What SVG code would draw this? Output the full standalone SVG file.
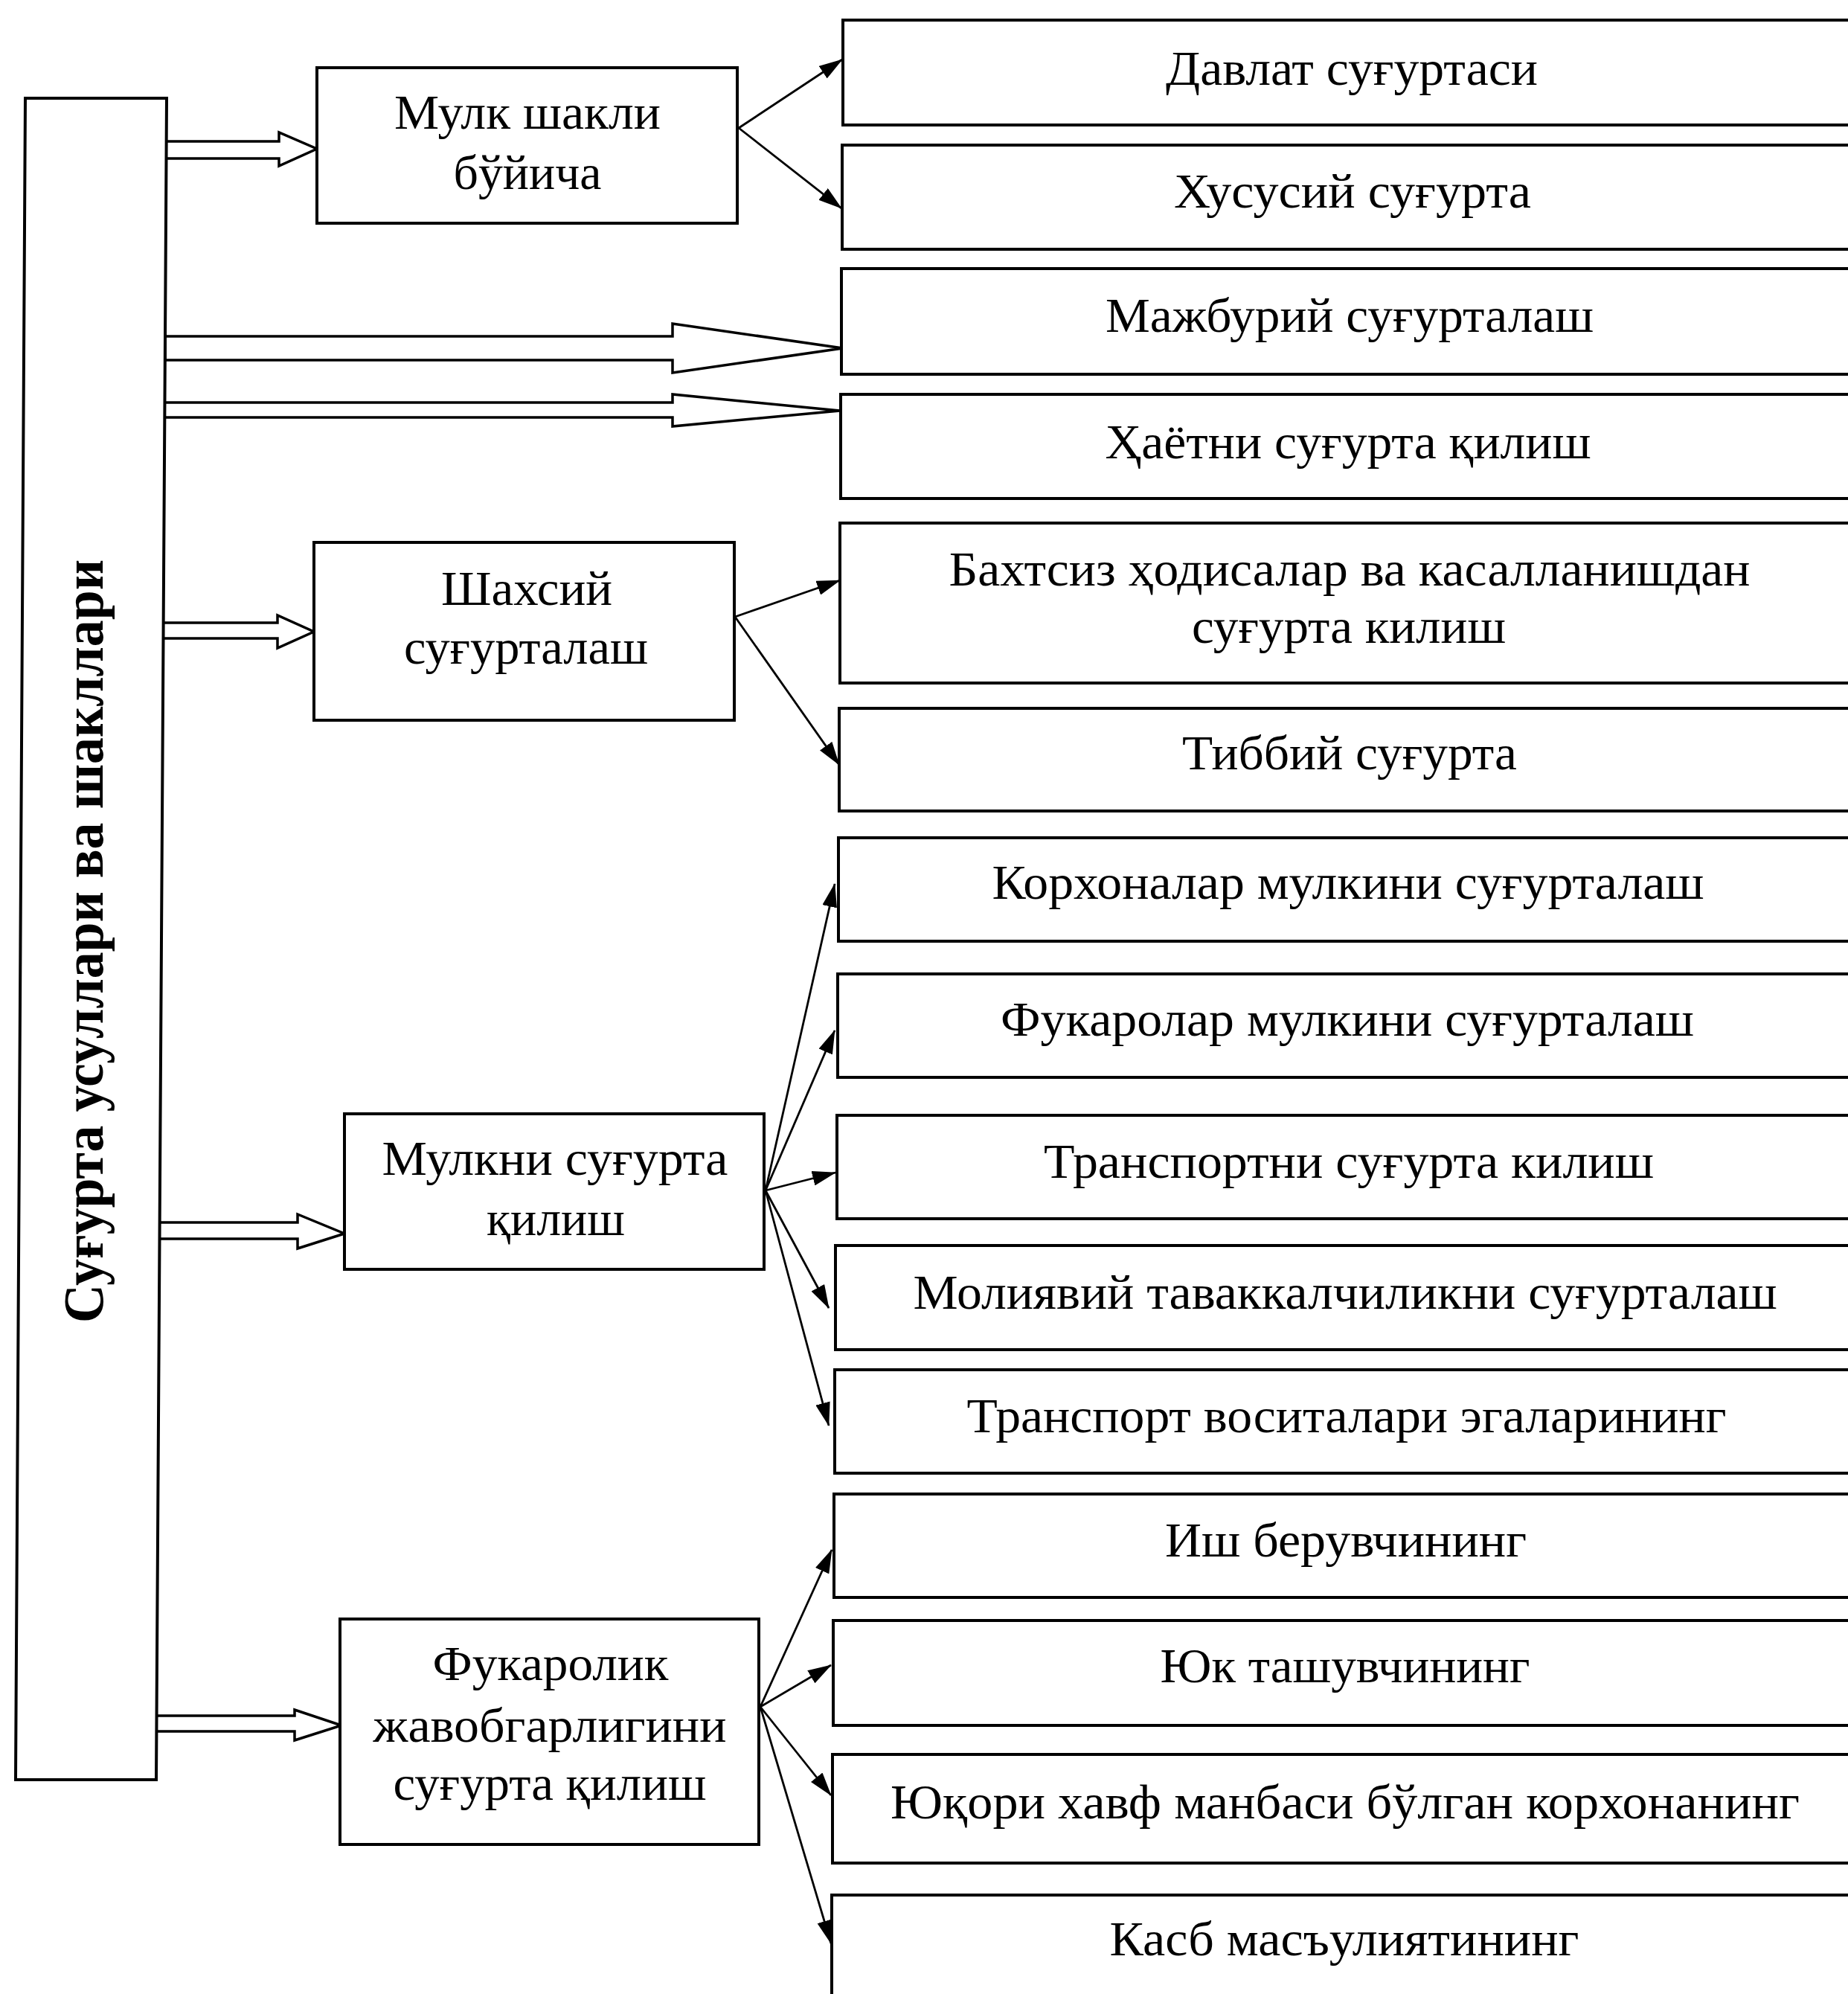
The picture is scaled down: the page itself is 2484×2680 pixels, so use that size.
<svg xmlns="http://www.w3.org/2000/svg" width="2484" height="2680" viewBox="0 0 2484 2680">
<style>
.box{fill:#fff;stroke:#000;stroke-width:4}
.t{font-family:"Liberation Serif","Times New Roman",serif;font-size:66px;fill:#000;text-anchor:middle}
.title{font-family:"Liberation Serif","Times New Roman",serif;font-size:76px;font-weight:bold;fill:#000;text-anchor:middle}
.blk{fill:#fff;stroke:#000;stroke-width:3.5;stroke-linejoin:miter}
.ln{fill:none;stroke:#000;stroke-width:2.8}
</style>
<defs>
<marker id="ah" markerUnits="userSpaceOnUse" markerWidth="32" markerHeight="20" viewBox="0 0 32 20" refX="31" refY="10" orient="auto">
<path d="M0,0 L32,10 L0,20 z" fill="#000"/>
</marker>
</defs>
<rect width="2484" height="2680" fill="#fff"/>

<g id="connectors">
<polygon class="blk" points="223,190 375,190 375,178 426,200 375,223 375,213 223,213"/>
<polygon class="blk" points="222,452 904,452 904,435 1133,468 904,501 904,484 222,484"/>
<polygon class="blk" points="221,541 904,541 904,530 1129,552 904,573 904,561 221,561"/>
<polygon class="blk" points="219,837 373,837 373,827 422,849 373,871 373,858 219,858"/>
<polygon class="blk" points="214,1643 400,1643 400,1632 463,1658 400,1678 400,1665 214,1665"/>
<polygon class="blk" points="210,2306 396,2306 396,2298 459,2319 396,2339 396,2327 210,2327"/>
<line class="ln" x1="993" y1="172" x2="1132" y2="80" marker-end="url(#ah)"/>
<line class="ln" x1="993" y1="172" x2="1131" y2="280" marker-end="url(#ah)"/>
<line class="ln" x1="988" y1="829" x2="1129" y2="780" marker-end="url(#ah)"/>
<line class="ln" x1="988" y1="829" x2="1128" y2="1028" marker-end="url(#ah)"/>
<line class="ln" x1="1029" y1="1600" x2="1122" y2="1188" marker-end="url(#ah)"/>
<line class="ln" x1="1029" y1="1600" x2="1122" y2="1385" marker-end="url(#ah)"/>
<line class="ln" x1="1029" y1="1600" x2="1123" y2="1576" marker-end="url(#ah)"/>
<line class="ln" x1="1029" y1="1600" x2="1114" y2="1758" marker-end="url(#ah)"/>
<line class="ln" x1="1029" y1="1600" x2="1114" y2="1916" marker-end="url(#ah)"/>
<line class="ln" x1="1022" y1="2294" x2="1118" y2="2083" marker-end="url(#ah)"/>
<line class="ln" x1="1022" y1="2294" x2="1117" y2="2238" marker-end="url(#ah)"/>
<line class="ln" x1="1022" y1="2294" x2="1117" y2="2413" marker-end="url(#ah)"/>
<line class="ln" x1="1022" y1="2294" x2="1117" y2="2612" marker-end="url(#ah)"/>
</g>

<g id="root">
<polygon class="box" points="34,132 224,132 210,2392 21,2392"/>
<text class="title" transform="translate(138,1265) rotate(-90)" textLength="1026" lengthAdjust="spacingAndGlyphs">Суғурта усуллари ва шакллари</text>
</g>

<g id="mulk-shakli">
<rect class="box" x="426" y="91" width="565" height="209"/>
<text class="t" x="709" y="173" textLength="358" lengthAdjust="spacingAndGlyphs">Мулк шакли</text>
<text class="t" x="709" y="254" textLength="199" lengthAdjust="spacingAndGlyphs">бўйича</text>
</g>

<g id="shakhsiy">
<rect class="box" x="422" y="729" width="565" height="239"/>
<text class="t" x="708" y="813" textLength="230" lengthAdjust="spacingAndGlyphs">Шахсий</text>
<text class="t" x="707" y="892" textLength="328" lengthAdjust="spacingAndGlyphs">суғурталаш</text>
</g>

<g id="mulkni">
<rect class="box" x="463" y="1497" width="564" height="209"/>
<text class="t" x="746" y="1579" textLength="465" lengthAdjust="spacingAndGlyphs">Мулкни суғурта</text>
<text class="t" x="747" y="1660" textLength="186" lengthAdjust="spacingAndGlyphs">қилиш</text>
</g>

<g id="fukarolik">
<rect class="box" x="457" y="2176" width="563" height="303"/>
<text class="t" x="740" y="2258" textLength="317" lengthAdjust="spacingAndGlyphs">Фукаролик</text>
<text class="t" x="739" y="2341" textLength="475" lengthAdjust="spacingAndGlyphs">жавобгарлигини</text>
<text class="t" x="739" y="2419" textLength="421" lengthAdjust="spacingAndGlyphs">суғурта қилиш</text>
</g>

<g id="r1"><rect class="box" x="1133" y="27" width="1400" height="141"/>
<text class="t" x="1817" y="114" textLength="500" lengthAdjust="spacingAndGlyphs">Давлат суғуртаси</text></g>
<g id="r2"><rect class="box" x="1132" y="195" width="1400" height="140"/>
<text class="t" x="1818" y="279" textLength="480" lengthAdjust="spacingAndGlyphs">Хусусий суғурта</text></g>
<g id="r3"><rect class="box" x="1131" y="361" width="1400" height="142"/>
<text class="t" x="1814" y="446" textLength="656" lengthAdjust="spacingAndGlyphs">Мажбурий суғурталаш</text></g>
<g id="r4"><rect class="box" x="1130" y="530" width="1400" height="140"/>
<text class="t" x="1812" y="616" textLength="653" lengthAdjust="spacingAndGlyphs">Ҳаётни суғурта қилиш</text></g>
<g id="r5"><rect class="box" x="1129" y="703" width="1400" height="215"/>
<text class="t" x="1814" y="787" textLength="1077" lengthAdjust="spacingAndGlyphs">Бахтсиз ҳодисалар ва касалланишдан</text>
<text class="t" x="1813" y="864" textLength="422" lengthAdjust="spacingAndGlyphs">суғурта килиш</text></g>
<g id="r6"><rect class="box" x="1128" y="952" width="1400" height="138"/>
<text class="t" x="1814" y="1034" textLength="450" lengthAdjust="spacingAndGlyphs">Тиббий суғурта</text></g>
<g id="r7"><rect class="box" x="1127" y="1126" width="1400" height="139"/>
<text class="t" x="1812" y="1208" textLength="957" lengthAdjust="spacingAndGlyphs">Корхоналар мулкини суғурталаш</text></g>
<g id="r8"><rect class="box" x="1126" y="1309" width="1400" height="139"/>
<text class="t" x="1811" y="1392" textLength="932" lengthAdjust="spacingAndGlyphs">Фукаролар мулкини суғурталаш</text></g>
<g id="r9"><rect class="box" x="1125" y="1499" width="1400" height="139"/>
<text class="t" x="1813" y="1583" textLength="820" lengthAdjust="spacingAndGlyphs">Транспортни суғурта килиш</text></g>
<g id="r10"><rect class="box" x="1123" y="1674" width="1400" height="140"/>
<text class="t" x="1808" y="1759" textLength="1161" lengthAdjust="spacingAndGlyphs">Молиявий таваккалчиликни суғурталаш</text></g>
<g id="r11"><rect class="box" x="1122" y="1841" width="1400" height="139"/>
<text class="t" x="1810" y="1925" textLength="1021" lengthAdjust="spacingAndGlyphs">Транспорт воситалари эгаларининг</text></g>
<g id="r12"><rect class="box" x="1121" y="2008" width="1400" height="139"/>
<text class="t" x="1809" y="2092" textLength="486" lengthAdjust="spacingAndGlyphs">Иш берувчининг</text></g>
<g id="r13"><rect class="box" x="1120" y="2178" width="1400" height="141"/>
<text class="t" x="1808" y="2261" textLength="497" lengthAdjust="spacingAndGlyphs">Юк ташувчининг</text></g>
<g id="r14"><rect class="box" x="1119" y="2358" width="1400" height="146"/>
<text class="t" x="1808" y="2444" textLength="1222" lengthAdjust="spacingAndGlyphs">Юқори хавф манбаси бўлган корхонанинг</text></g>
<g id="r15"><rect class="box" x="1118" y="2547" width="1400" height="180"/>
<text class="t" x="1807" y="2628" textLength="631" lengthAdjust="spacingAndGlyphs">Касб масъулиятининг</text></g>
</svg>
